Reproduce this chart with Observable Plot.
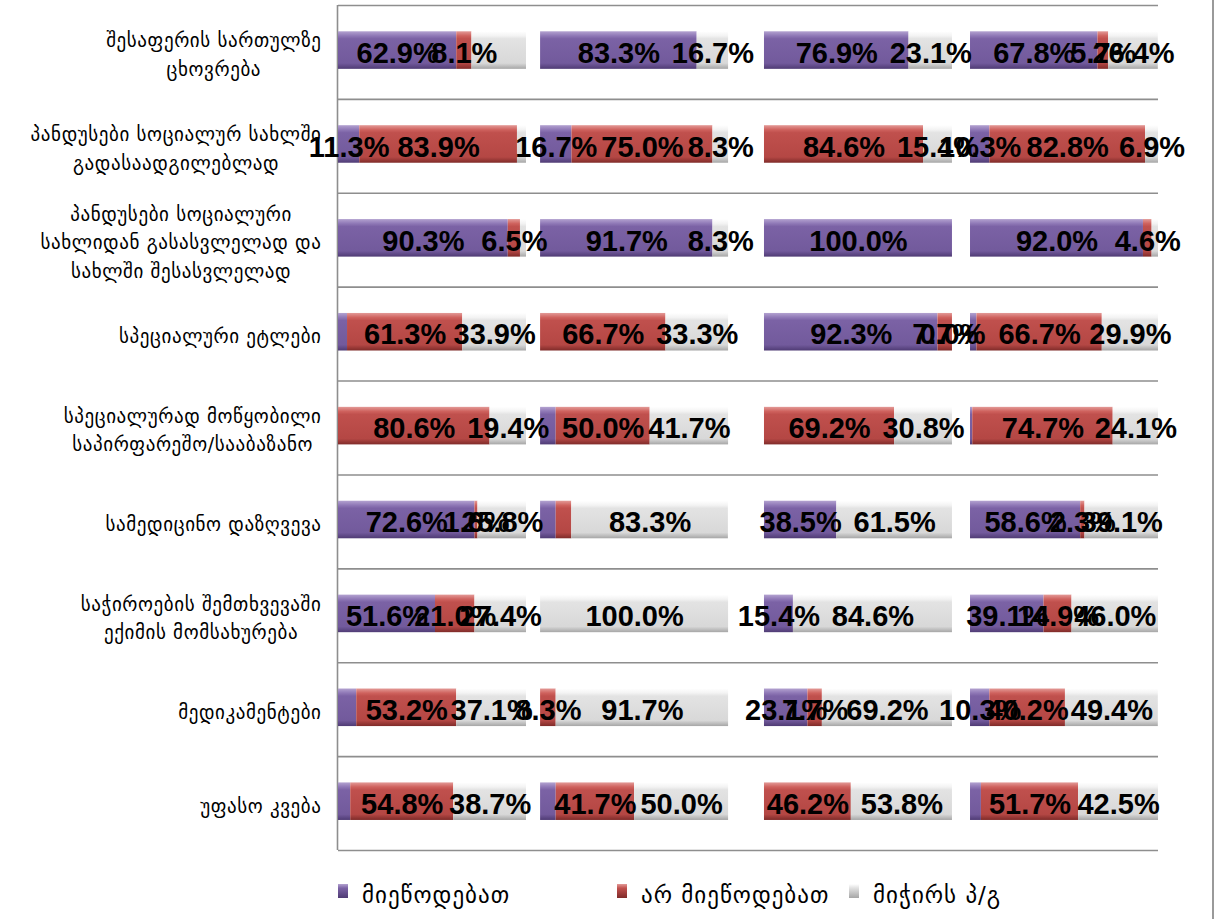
<!DOCTYPE html>
<html><head><meta charset="utf-8">
<script src="https://cdn.jsdelivr.net/npm/d3@7"></script>
<script src="https://cdn.jsdelivr.net/npm/@observablehq/plot@0.6"></script>
<style>
body{margin:0;background:#fff;width:1219px;height:919px;overflow:hidden;position:relative;font-family:"DejaVu Sans",sans-serif;}
#chart{position:absolute;left:0;top:0;}
#legend{position:absolute;top:878px;left:0;width:1219px;height:34px;}
.item{position:absolute;top:0;height:34px;display:flex;align-items:center;font-size:23px;letter-spacing:1px;color:#000;}
.sw{width:10px;height:14px;margin-right:14px;margin-top:-8px;}
#border{position:absolute;left:1212px;top:0;width:2px;height:919px;background:#9a9a9a;}
</style></head><body>
<div id="chart"></div><div id="legend"></div><div id="border"></div>
<script>
// ---- data ----
const categories = [
  "შესაფერის სართულზე\nცხოვრება",
  "პანდუსები სოციალურ სახლში\nგადასაადგილებლად",
  "პანდუსები სოციალური\nსახლიდან გასასვლელად და\nსახლში შესასვლელად",
  "სპეციალური ეტლები",
  "სპეციალურად მოწყობილი\nსაპირფარეშო/სააბაზანო",
  "სამედიცინო დაზღვევა",
  "საჭიროების შემთხვევაში\nექიმის მომსახურება",
  "მედიკამენტები",
  "უფასო კვება"
];
const seriesNames = ["მიეწოდებათ", "არ მიეწოდებათ", "მიჭირს პ/გ"];
// rows = categories, columns = the four groups
const provided = [
  [62.9, 83.3, 76.9, 67.8],
  [11.3, 16.7, null, 10.3],
  [90.3, 91.7, 100.0, 92.0],
  [4.8, null, 92.3, 3.4],
  [null, 8.3, null, 1.2],
  [72.6, 8.3, 38.5, 58.6],
  [51.6, null, 15.4, 39.1],
  [9.7, null, 23.1, 10.3],
  [6.5, 8.3, null, 5.8]
];
const notProvided = [
  [8.1, null, null, 5.7],
  [83.9, 75.0, 84.6, 82.8],
  [6.5, null, null, 4.6],
  [61.3, 66.7, 7.7, 66.7],
  [80.6, 50.0, 69.2, 74.7],
  [1.6, 8.3, null, 2.3],
  [21.0, null, null, 14.9],
  [53.2, 8.3, 7.7, 40.2],
  [54.8, 41.7, 46.2, 51.7]
];
const hardToSay = [
  [29.0, 16.7, 23.1, 26.4],
  [4.8, 8.3, 15.4, 6.9],
  [3.2, 8.3, null, 3.4],
  [33.9, 33.3, 0.0, 29.9],
  [19.4, 41.7, 30.8, 24.1],
  [25.8, 83.3, 61.5, 39.1],
  [27.4, 100.0, 84.6, 46.0],
  [37.1, 91.7, 69.2, 49.4],
  [38.7, 50.0, 53.8, 42.5]
];
// value labels not shown in the original: [row, group, series]
const hiddenLabels = [
  [0,0,2],[1,0,2],[2,0,2],[2,3,2],[3,0,0],[3,3,0],[4,1,0],[4,3,0],
  [5,1,0],[5,1,1],[7,0,0],[8,0,0],[8,1,0],[8,3,0]
];

// ---- layout ----
const groupOffset = [0, 107.5, 226.6, 336.2]; // where each group's 100% bar starts, in % units
const fills = ["url(#gPurple)", "url(#gRed)", "url(#gGrey)"];
const seriesData = [provided, notProvided, hardToSay];

const segs = [];
categories.forEach((c, r) => {
  for (let g = 0; g < 4; g++) {
    let acc = groupOffset[g];
    seriesData.forEach((arr, s) => {
      const v = arr[r][g];
      if (v == null) return;
      const hidden = hiddenLabels.some(h => h[0] === r && h[1] === g && h[2] === s);
      segs.push({row: r, group: g, series: s, value: v, x1: acc, x2: acc + v, hidden});
      acc += v;
    });
  }
});

const fmt = d3.format(".1f");
const H = 856;
const chart = Plot.plot({
  width: 1219, height: H,
  marginLeft: 338, marginRight: 61, marginTop: 5, marginBottom: H - 850,
  x: {domain: [0, 436.2], axis: null},
  y: {domain: [0, categories.length], range: [5, 850], axis: null},
  marks: [
    Plot.ruleY(d3.range(0, categories.length + 1), {stroke: "#8e8e8e", strokeWidth: 1.6}),
    Plot.ruleX([0], {stroke: "#8e8e8e", strokeWidth: 1.6, dx: -1}),
    ...[0, 1, 2].map(s => Plot.rect(segs.filter(d => d.series === s), {
      x1: "x1", x2: "x2",
      y1: d => d.row + 0.28, y2: d => d.row + 0.68,
      fill: fills[s], ariaLabel: "bars"
    })),
    Plot.axisY({
      ticks: categories.map((c, i) => i + 0.5),
      tickFormat: v => categories[Math.floor(v)],
      tickSize: 0, tickPadding: 17,
      fontSize: 19, lineHeight: 1.5,
      fontFamily: "DejaVu Sans", fill: "#000", textStroke: "none"
    }),
    Plot.text(segs.filter(d => !d.hidden), {
      x: d => (d.x1 + d.x2) / 2, y: d => d.row + 0.5,
      text: d => fmt(d.value) + "%",
      fontSize: 29, fontWeight: "bold",
      fontFamily: "'Liberation Sans', Arial, sans-serif",
      fill: "#000", dy: 1, ariaLabel: "values"
    })
  ]
});
document.getElementById("chart").appendChild(chart);

// gradients and shadow
const svg = d3.select(chart);
const defs = svg.insert("defs", ":first-child");
function grad(id, stops) {
  const lg = defs.append("linearGradient").attr("id", id).attr("x1", 0).attr("y1", 0).attr("x2", 0).attr("y2", 1);
  stops.forEach(([o, c]) => lg.append("stop").attr("offset", o).attr("stop-color", c));
}
grad("gPurple", [[0, "#b3a2d0"], [0.12, "#8f78b6"], [0.2, "#7b62a5"], [0.85, "#725a9c"], [1, "#4f3b74"]]);
grad("gRed", [[0, "#e39a97"], [0.12, "#cf625e"], [0.2, "#c0504d"], [0.85, "#b44744"], [1, "#7f2b29"]]);
grad("gGrey", [[0, "#ffffff"], [0.12, "#f3f3f3"], [0.2, "#e3e3e3"], [0.85, "#d8d8d8"], [1, "#a6a6a6"]]);
const f = defs.append("filter").attr("id", "shadow").attr("x", "-5%").attr("y", "-20%").attr("width", "110%").attr("height", "160%");
f.append("feDropShadow").attr("dx", 0).attr("dy", 5).attr("stdDeviation", 3).attr("flood-color", "#000").attr("flood-opacity", 0.3);
svg.selectAll('g[aria-label="bars"]').attr("filter", "url(#shadow)");

// condense value labels horizontally (narrow bold face like the original)
svg.selectAll('g[aria-label="values"] text').each(function() {
  this.setAttribute("transform", (this.getAttribute("transform") || "") + " scale(0.8,1)");
});

// center multi-line category labels as a block, right-aligned to the axis
const axisG = svg.select('g[aria-label="y-axis tick label"]');
axisG.style("letter-spacing", "0.6px");
axisG.selectAll("text").each(function() {
  const w = this.getBBox().width;
  this.setAttribute("text-anchor", "middle");
  this.setAttribute("transform", (this.getAttribute("transform") || "") + ` translate(${-w / 2},0)`);
});

// legend
const legendX = [338, 617, 849];
const swatch = ["linear-gradient(#b3a2d0,#7b62a5 30%,#4f3b74)", "linear-gradient(#e39a97,#c0504d 30%,#7f2b29)", "linear-gradient(#fff,#e0e0e0 30%,#a6a6a6)"];
const leg = document.getElementById("legend");
seriesNames.forEach((n, i) => {
  const it = document.createElement("div");
  it.className = "item"; it.style.left = legendX[i] + "px";
  it.innerHTML = `<span class="sw" style="background:${swatch[i]}"></span><span>${n}</span>`;
  leg.appendChild(it);
});
</script></body></html>
